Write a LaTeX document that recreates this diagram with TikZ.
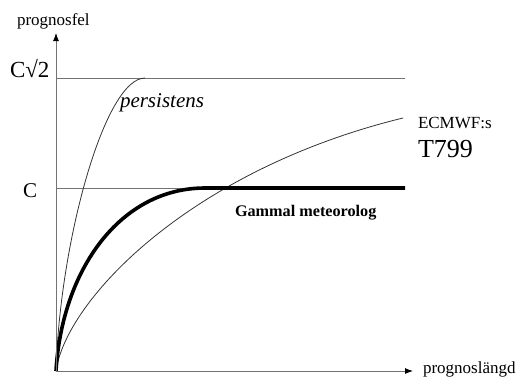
\documentclass[tikz,border=0pt]{standalone}
\usepackage{fontspec}
\setmainfont{Liberation Serif}
\usetikzlibrary{arrows.meta}
\begin{document}
\begin{tikzpicture}[x=1pt,y=-1pt,
  lbl/.style={anchor=base west,inner sep=0pt,outer sep=0pt,text=black},
  axisline/.style={draw=black!55,line width=0.9pt},
  refline/.style={draw=black!55,line width=0.8pt},
  thincurve/.style={draw=black!80,line width=0.8pt},
  thickcurve/.style={draw=black,line width=3.6pt},
  tip/.style={-{Latex[length=8pt,width=6pt,black]}}]
\useasboundingbox (0,0) rectangle (518,376);
% coordinates
\coordinate (O) at (56,371);
\coordinate (ytop) at (56,33);
\coordinate (xend) at (413,371);
\coordinate (Cs) at (56,78);
\coordinate (CsE) at (405,78);
\coordinate (Cl) at (56,188);
\coordinate (ClE) at (405,188);
\coordinate (pEnd) at (145,78);
\coordinate (gKnee) at (205,188);
\coordinate (eEnd) at (403,118);
% reference lines
\draw[refline] (Cs) -- (CsE);
\draw[refline] (Cl) -- (ClE);
% curves
\draw[thincurve] (O) .. controls (60,240) and (105,78) .. (pEnd);
\draw[thincurve] (O) .. controls (66,300) and (190,170) .. (eEnd);
\draw[thickcurve] (O) .. controls (62,270) and (120,188) .. (gKnee) -- (ClE);
% axes
\draw[axisline,tip] (O) -- (ytop);
\draw[axisline,tip] (O) -- (xend);
% labels
\node[lbl,font=\fontsize{17}{20}\selectfont] (ylab) at (17,25) {prognosfel};
\node[lbl,font=\fontsize{17}{20}\selectfont] (xlab) at (423,373) {prognoslängd};
\node[lbl,font=\fontsize{23}{26}\selectfont] (csq) at (10,77) {C√2};
\node[lbl,font=\fontsize{21}{24}\selectfont] (cl) at (23,197) {C};
\node[lbl,font=\fontsize{21}{24}\selectfont\itshape] (pers) at (120,107) {persistens};
\node[lbl,font=\fontsize{17}{20}\selectfont] (ecm) at (418,128) {ECMWF:s};
\node[lbl,font=\fontsize{26}{30}\selectfont] (t799) at (418,157) {T799};
\node[lbl,font=\fontsize{16.2}{19}\selectfont\bfseries] (gam) at (235,216) {Gammal meteorolog};
\end{tikzpicture}
\end{document}
